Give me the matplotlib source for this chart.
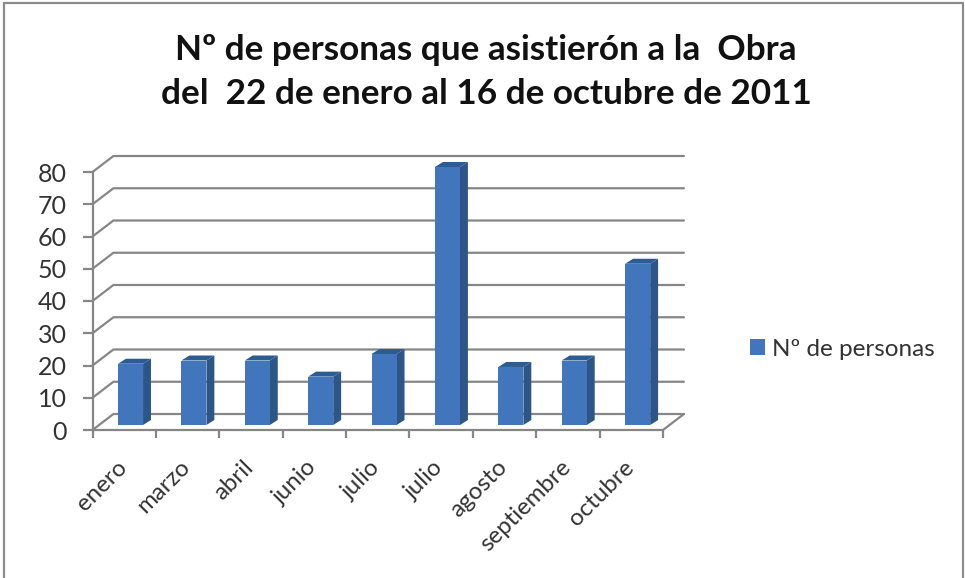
import matplotlib
matplotlib.use('Agg')
import matplotlib.pyplot as plt
from matplotlib.patches import Polygon, Rectangle

plt.rcParams['font.family'] = ['Lato', 'DejaVu Sans']

months = ['enero', 'marzo', 'abril', 'junio', 'julio', 'julio', 'agosto',
          'septiembre', 'octubre']
asistentes = [19, 20, 20, 15, 22, 80, 18, 20, 50]
y_ticks = [0, 10, 20, 30, 40, 50, 60, 70, 80]
series_name = 'N\u00ba de personas'
title = ('N\u00ba de personas que asistier\u00f3n a la  Obra\n'
         'del  22 de enero al 16 de octubre de 2011')

COLOUR_FRONT = '#4276BC'
COLOUR_SIDE = '#2C5688'
COLOUR_TOP = '#2C5C94'
COLOUR_GRID = '#868686'
COLOUR_TEXT = '#333333'

W, H = 965, 578

fig = plt.figure(figsize=(W / 100, H / 100), dpi=100)
fig.patch.set_facecolor('white')

# Chart frame, its lower edge falls off the canvas
fig.add_artist(Rectangle((4 / W, -10 / H), 959 / W, (H - 3 + 10) / H, transform=fig.transFigure,
                         facecolor='none', edgecolor='#8c8c8c', linewidth=1.6))

# Front plane of the fake 3D box spans the axes
ax = fig.add_axes([92.5 / W, (H - 430) / H, (663 - 92.5) / W, 258 / H])
ax.set_xlim(0, len(months))
ax.set_ylim(0, max(y_ticks))
ax.patch.set_alpha(0)
for side in ax.spines.values():
    side.set_visible(False)

# Wall depth and bar depth, in data units
wall_dx, wall_dy = 0.33, 4.96
bar_dx, bar_dy = 0.125, 1.55
bar_width = 0.395
bar_shift = 0.10
bar_base = 1.55

grid_kw = dict(color=COLOUR_GRID, linewidth=1.6, clip_on=False, solid_capstyle='round')

# Gridlines run along the back wall, joined to the axis by a slanted stub
n = len(months)
for tick in y_ticks:
    ax.plot([0, wall_dx, n + wall_dx], [tick, tick + wall_dy, tick + wall_dy],
            zorder=1, **grid_kw)
ax.plot([n, n + wall_dx], [0, wall_dy], zorder=1, **grid_kw)

# Axis lines with outward ticks
ax.plot([0, 0], [0, max(y_ticks)], zorder=2, **grid_kw)
ax.plot([0, n], [0, 0], zorder=2, **grid_kw)
ax.set_yticks(y_ticks)
ax.set_xticks(range(n + 1))
ax.set_xticklabels([])
ax.tick_params(axis='y', color=COLOUR_GRID, width=1.6, length=7, pad=11.5,
               labelsize=18, labelcolor=COLOUR_TEXT)
ax.tick_params(axis='x', color=COLOUR_GRID, width=1.6, length=5.5)

# Bars: front face through ax.bar, then the side and top faces
centres = [i + 0.5 + bar_shift for i in range(n)]
bars = ax.bar(centres, asistentes, width=bar_width, bottom=bar_base, color=COLOUR_FRONT,
              zorder=4, clip_on=False, label=series_name)
for bar, val in zip(bars, asistentes):
    x0 = bar.get_x()
    x1 = x0 + bar.get_width()
    y0 = bar_base
    y1 = bar_base + val
    ax.add_patch(Polygon([(x1, y0), (x1 + bar_dx, y0 + bar_dy), (x1 + bar_dx, y1 + bar_dy), (x1, y1)],
                         facecolor=COLOUR_SIDE, edgecolor='none', zorder=3, clip_on=False))
    ax.add_patch(Polygon([(x0, y1), (x0 + bar_dx, y1 + bar_dy), (x1 + bar_dx, y1 + bar_dy), (x1, y1)],
                         facecolor=COLOUR_TOP, edgecolor='none', zorder=3, clip_on=False))

# Slanted month labels, ending under the middle of each slot
for i, month in enumerate(months):
    ax.annotate(month, xy=(i + 0.5, 0), xytext=(-6, -19), textcoords='offset points',
                rotation=45, rotation_mode='anchor', ha='right', va='top',
                fontsize=17.3, color=COLOUR_TEXT, annotation_clip=False)

fig.text(486 / W, (H - 72) / H, title, ha='center', va='center', fontsize=25.3,
         fontweight='bold', color='#111111', linespacing=1.45)

leg = ax.legend(loc='center left', bbox_to_anchor=(750 / W, (H - 349) / H),
                bbox_transform=fig.transFigure, frameon=False, fontsize=17.5,
                borderpad=0, borderaxespad=0,
                handlelength=0.62, handleheight=0.62, handletextpad=0.29,
                labelcolor=COLOUR_TEXT)

fig.savefig('out.png', dpi=100)
plt.close(fig)
